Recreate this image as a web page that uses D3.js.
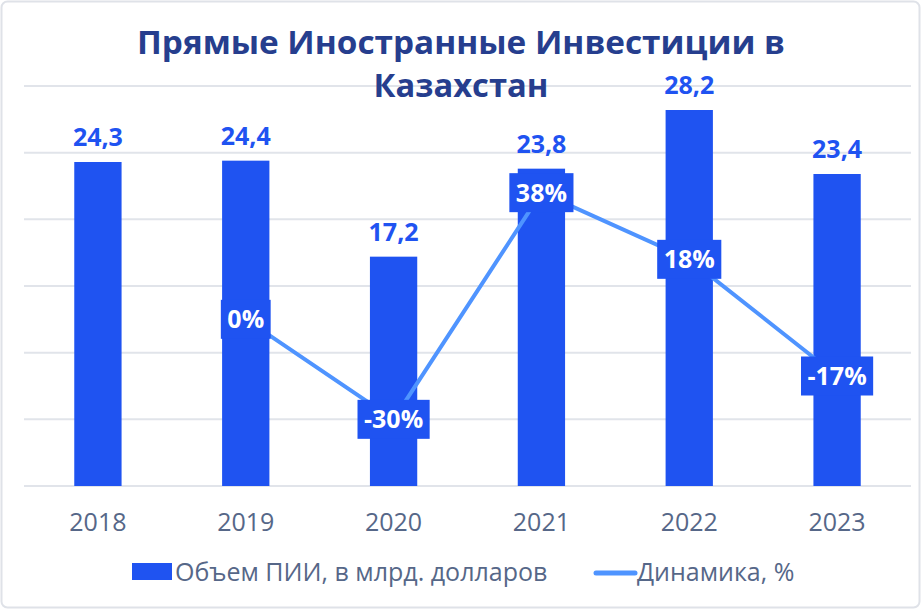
<!DOCTYPE html>
<html><head><meta charset="utf-8">
<script src="https://cdn.jsdelivr.net/npm/d3@7"></script>
<style>html,body{margin:0;padding:0;background:#fff}svg{display:block;font-family:"Open Sans",sans-serif}</style>
</head><body><svg id="c" width="921" height="609"></svg>
<script>
const years = ["2018","2019","2020","2021","2022","2023"];
const volume = [24.3, 24.4, 17.2, 23.8, 28.2, 23.4];
const dynYears = ["2019","2020","2021","2022","2023"];
const dynamics = [0, -30, 38, 18, -17];
const yTicks = [0,5,10,15,20,25,30];
const titleLines = ["Прямые Иностранные Инвестиции в","Казахстан"];
const legendLabels = ["Объем ПИИ, в млрд. долларов","Динамика, %"];

const svg = d3.select("#c");
const barColor = "#1f53f1", lineColor = "#4f94ff", textGray = "#566788", titleColor = "#263e8e";

svg.append("rect").attr("x",1.5).attr("y",1.5).attr("width",918).attr("height",606)
  .attr("rx",6).attr("fill","#fff").attr("stroke","#dfe2e8").attr("stroke-width",2);

const x = d3.scaleBand().domain(years).range([24,911]).paddingInner(0.68).paddingOuter(0.34);
const y = d3.scaleLinear().domain([0,30]).range([486,86]);
const y2 = d3.scaleLinear().domain([-50,70]).range([486,86]);

svg.append("g").selectAll("line").data(yTicks).join("line")
  .attr("x1",24).attr("x2",911).attr("y1",d=>y(d)).attr("y2",d=>y(d))
  .attr("stroke","#e1e4ea").attr("stroke-width",2);

svg.append("g").selectAll("rect").data(years).join("rect")
  .attr("x",d=>x(d)).attr("width",x.bandwidth())
  .attr("y",(d,i)=>y(volume[i])).attr("height",(d,i)=>y(0)-y(volume[i]))
  .attr("fill",barColor);

svg.append("g").selectAll("text").data(years).join("text")
  .attr("x",d=>x(d)+x.bandwidth()/2).attr("y",(d,i)=>y(volume[i])-16)
  .attr("text-anchor","middle").attr("fill",barColor)
  .attr("font-size",25).attr("font-weight",700)
  .text((d,i)=>volume[i].toFixed(1).replace(".",","));

const cx = d=>x(d)+x.bandwidth()/2;
const line = d3.line().x((d,i)=>cx(dynYears[i])).y(d=>y2(d));
svg.append("path").datum(dynamics).attr("d",line).attr("fill","none")
  .attr("stroke",lineColor).attr("stroke-width",4).attr("stroke-linejoin","round");

const lab = svg.append("g").selectAll("g").data(dynamics).join("g")
  .attr("transform",(d,i)=>`translate(${cx(dynYears[i])},${y2(d)})`);
lab.each(function(d){
  const g = d3.select(this);
  const t = g.append("text").attr("text-anchor","middle").attr("dy","0.36em")
    .attr("fill","#fff").attr("font-size",25).attr("font-weight",700)
    .text(d+"%");
  const b = t.node().getBBox();
  g.insert("rect","text").attr("x",b.x-6.5).attr("y",-19.5).attr("width",b.width+13).attr("height",39)
    .attr("fill",barColor);
});

const xa = svg.append("g").attr("transform","translate(0,486)")
  .call(d3.axisBottom(x).tickSize(0).tickPadding(27));
xa.select(".domain").remove();
xa.selectAll("text").attr("font-size",25).attr("fill",textGray).attr("font-family","Open Sans");

svg.append("g").selectAll("text").data(titleLines).join("text")
  .attr("x",461).attr("y",(d,i)=>54+i*43).attr("text-anchor","middle")
  .attr("fill",titleColor).attr("font-size",32).attr("font-weight",700)
  .attr("textLength",(d,i)=>i===0?648:175).attr("lengthAdjust","spacingAndGlyphs")
  .text(d=>d);

const lg = svg.append("g");
lg.append("rect").attr("x",132).attr("y",563).attr("width",40).attr("height",17).attr("fill",barColor);
lg.append("text").attr("x",175).attr("y",581).attr("font-size",25).attr("fill",textGray).text(legendLabels[0]);
lg.append("line").attr("x1",596).attr("x2",635).attr("y1",573).attr("y2",573)
  .attr("stroke",lineColor).attr("stroke-width",5).attr("stroke-linecap","round");
lg.append("text").attr("x",637).attr("y",581).attr("font-size",25).attr("fill",textGray).text(legendLabels[1]);
</script></body></html>
